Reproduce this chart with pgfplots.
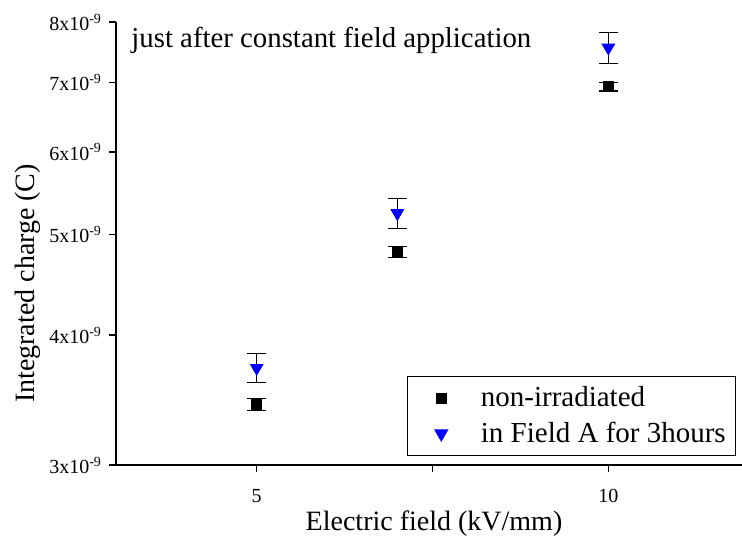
\documentclass[border=0pt]{standalone}
\usepackage{pgfplots}
\pgfplotsset{compat=1.18}
\usepackage{fontspec}
\setmainfont{Liberation Serif}

\pgfplotstableread{
x   y       e
5   3.43e-9 0.045e-9
7   4.81e-9 0.06e-9
10  6.935e-9 0.065e-9
}\nonirr
\pgfplotstableread{
x   y       e
5   3.72e-9 0.12e-9
7   5.24e-9 0.17e-9
10  7.56e-9 0.26e-9
}\fielda

\begin{document}
\begin{tikzpicture}
\begin{axis}[
  scale only axis, width=313pt, height=221.5pt,
  ymode=log,
  xmin=3, xmax=11.9, ymin=3e-9, ymax=8e-9,
  axis x line=bottom, axis y line=left,
  axis line style={-, line width=0.75pt},
  tick align=outside, major tick length=3.5pt,
  tick style={black, line width=0.75pt},
  xtick={5,7.5,10}, xticklabels={5,,10},
  ytick={3e-9,4e-9,5e-9,6e-9,7e-9,8e-9},
  yticklabels={3x10\textsuperscript{-9},4x10\textsuperscript{-9},5x10\textsuperscript{-9},6x10\textsuperscript{-9},7x10\textsuperscript{-9},8x10\textsuperscript{-9}},
  minor ytick={},
  ticklabel style={font=\fontsize{10}{12}\selectfont},
  xticklabel style={yshift=-5pt},
  xlabel={Electric field (kV/mm)}, ylabel={Integrated charge (C)},
  label style={font=\fontsize{14}{16}\selectfont},
  xlabel style={at={(axis description cs:0.508,-0.131)}, anchor=center},
  ylabel style={at={(axis description cs:-0.1406,0.41)}, anchor=center},
  clip=false,
  legend cell align=left,
  legend image code/.code={\path (0pt,0pt) (31pt,0pt); \draw[#1] plot coordinates {(13.5pt,0pt)};},
  legend style={at={(axis description cs:0.465,0.201)}, anchor=north west,
    draw=black, line width=0.6pt, font=\fontsize{14.5}{16}\selectfont,
    row sep=2pt, inner ysep=3pt},
  error bars/y dir=both, error bars/y explicit,
  error bars/error bar style={black, line width=0.6pt},
  error bars/error mark options={black, rotate=90, mark size=4.75pt, line width=0.6pt},
]
\addplot[only marks, mark=square*, mark size=2.5pt, black] table[x=x, y=y, y error=e] {\nonirr};
\addlegendentry{non-irradiated}
\addplot[only marks, mark=triangle*, mark options={rotate=180}, mark size=3.6pt, blue, draw=blue] table[x=x, y=y, y error=e] {\fielda};
\addlegendentry{in Field A for 3hours\hspace{20pt}}
\node[anchor=base west, font=\fontsize{14.4}{16}\selectfont, inner sep=0pt] at (rel axis cs:0.024,0.9436) {just after constant field application};
\end{axis}
\pgfresetboundingbox
\path[use as bounding box] (-58pt,-35.5pt) rectangle (313pt,232.5pt);
\end{tikzpicture}
\end{document}
